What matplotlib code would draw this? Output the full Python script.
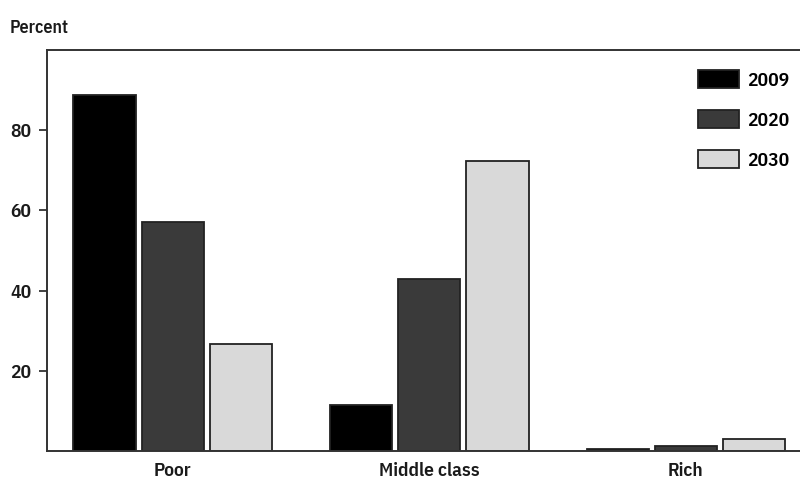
import matplotlib
matplotlib.use("Agg")
import matplotlib.pyplot as plt
import numpy as np

categories = ["Poor", "Middle class", "Rich"]
years = ["2009", "2020", "2030"]
v2009 = [88.8, 11.5, 0.6]
v2020 = [57.1, 42.9, 1.3]
v2030 = [26.7, 72.4, 2.9]
yticks = [20, 40, 60, 80]

colors = ["#000000", "#3a3a3a", "#d9d9d9"]

plt.rcParams['font.family'] = ['IBM Plex Sans Condensed', 'DejaVu Sans']

fig = plt.figure(figsize=(8, 4.8), dpi=100)
ax = fig.add_axes([47/800, 29/480, 1 - 47/800, 401/480])

x = np.arange(len(categories))
step = 0.266
width = 0.242
for i, (vals, yr, c) in enumerate(zip([v2009, v2020, v2030], years, colors)):
    ax.bar(x + (i - 1) * step, vals, width, color=c, edgecolor="#222222",
           linewidth=1.3, label=yr, zorder=2)

ax.set_xlim(-0.49, 2.445)
ax.set_ylim(0, 100)
ax.set_yticks(yticks)
ax.set_yticklabels([str(t) for t in yticks], fontsize=14, fontweight=600, color="#1a1a1a")
ax.set_xticks(x)
ax.set_xticklabels(categories, fontsize=14, fontweight=600, color="#1a1a1a")
ax.tick_params(axis='x', length=0, pad=8)
ax.tick_params(axis='y', length=6, width=1.3, direction='out', pad=5, color="#333333")
for s in ["left", "top", "bottom"]:
    ax.spines[s].set_linewidth(1.4)
    ax.spines[s].set_color("#333333")
ax.spines["right"].set_visible(False)

fig.text(10/800, 1 - 28/480, "Percent", fontsize=13, fontweight=600,
         va='center', ha='left', color="#1a1a1a")

leg = ax.legend(loc='upper left', bbox_to_anchor=(698/800, 1 - 70/480),
                bbox_transform=fig.transFigure, frameon=False,
                borderpad=0, borderaxespad=0,
                handlelength=2.1, handleheight=1.05,
                labelspacing=1.05, handletextpad=0.45,
                prop={'weight': 600, 'size': 14})

fig.savefig("out.png", dpi=100)
